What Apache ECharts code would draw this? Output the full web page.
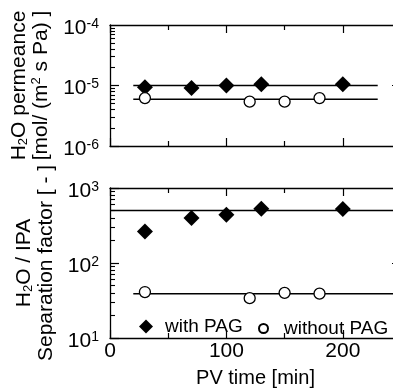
<!DOCTYPE html>
<html><head><meta charset="utf-8">
<script src="https://cdn.jsdelivr.net/npm/echarts@6/dist/echarts.min.js"></script>
<style>html,body{margin:0;padding:0;background:#fff}#c{width:393px;height:389px}</style>
</head><body><div id="c"></div><script>
// ---- data ----
const timeWith = [30, 70, 100, 130, 200];
const permWith = [9.4e-6, 9.1e-6, 1.0e-5, 1.05e-5, 1.05e-5];
const sepWith = [264, 398, 441, 530, 525];
const timeWithout = [30, 120, 150, 180];
const permWithout = [6.2e-6, 5.4e-6, 5.4e-6, 6.2e-6];
const sepWithout = [41, 34, 40, 39];
const permFitX = [20, 230];
const permFitWith = [1.0e-5, 1.0e-5];
const permFitWithout = [5.9e-6, 5.9e-6];
const sepFitWithX = [0, 250];
const sepFitWith = [500, 500];
const sepFitWithoutX = [20, 250];
const sepFitWithout = [39, 39];
const xTickLabels = [0, 100, 200];
const permDecades = [1e-6, 1e-5, 1e-4];
const sepDecades = [10, 100, 1000];

const FONT = 'Liberation Sans, Arial, sans-serif';
const TICK = '#000';
const zip = (a, b) => a.map((v, i) => [v, b[i]]);
const minorVals = d => { const r = []; for (let i = 0; i < d.length - 1; i++) for (let k = 2; k <= 9; k++) r.push(d[i] * k); return r; };

const grids = [
  {left: 110, top: 25, width: 291, height: 121, outerBoundsMode: 'none', containLabel: false},
  {left: 110, top: 188, width: 291, height: 150, outerBoundsMode: 'none', containLabel: false}
];
const axLine = () => ({show: true, onZero: false, lineStyle: {color: '#000', width: 1.3}});

function xAx(grid, pos, labels) {
  return {
    type: 'value', gridIndex: grid, position: pos, min: 0, max: 250, interval: 100,
    axisLine: axLine(), splitLine: {show: false},
    axisTick: {show: true, inside: true, length: 8, lineStyle: {color: TICK, width: 1.2}},
    minorTick: {show: true, splitNumber: 2, length: 5, lineStyle: {color: TICK, width: 1.2}},
    axisLabel: {show: labels, showMaxLabel: false, margin: 3, fontSize: 21, color: '#000', fontFamily: FONT},
    name: labels ? 'PV time [min]' : '', nameLocation: 'middle', nameGap: 30,
    nameTextStyle: {fontSize: 20, color: '#000', fontFamily: FONT}
  };
}
function yAx(grid, pos, dec, labels, name) {
  return {
    type: 'log', logBase: 10, gridIndex: grid, position: pos, min: dec[0], max: dec[dec.length - 1],
    axisLine: axLine(), splitLine: {show: false},
    axisTick: {show: true, inside: true, length: 9, customValues: dec, lineStyle: {color: TICK, width: 1.2}},
    axisLabel: {show: labels, margin: 11, color: '#000', fontFamily: FONT, padding: [6, 0, 0, 0],
      formatter: v => '{b|10}{s|' + Math.round(Math.log10(v)) + '}',
      rich: {b: {fontSize: 21, lineHeight: 22, fontFamily: FONT, color: '#000'},
             s: {fontSize: 14, lineHeight: 14, verticalAlign: 'top', fontFamily: FONT, color: '#000'}}},
    name: name || '', nameLocation: 'middle', nameRotate: 90, nameGap: 52,
    nameTextStyle: {color: '#000', fontFamily: FONT, lineHeight: 22,
      rich: {t: {fontSize: 21, lineHeight: 22, fontFamily: FONT, color: '#000'},
             sub: {fontSize: 13, lineHeight: 13, verticalAlign: 'bottom', fontFamily: FONT, color: '#000'},
             sup: {fontSize: 13, lineHeight: 13, verticalAlign: 'top', fontFamily: FONT, color: '#000'}}}
  };
}
function yMinor(grid, pos, dec) {
  return {
    type: 'log', logBase: 10, gridIndex: grid, position: pos, min: dec[0], max: dec[dec.length - 1],
    axisLine: {show: false, onZero: false}, splitLine: {show: false}, axisLabel: {show: false},
    axisTick: {show: true, inside: true, length: 5, customValues: minorVals(dec), lineStyle: {color: TICK, width: 1.1}}
  };
}
const hiddenX = g => ({type: 'value', gridIndex: g, min: 0, max: 250, show: false, axisLine: {onZero: false}});

const diamond = {symbol: 'diamond', symbolSize: 16, itemStyle: {color: '#000', opacity: 1}};
const circle = {symbol: 'circle', symbolSize: 11, itemStyle: {color: '#fff', borderColor: '#000', borderWidth: 1.3, opacity: 1}};
const fit = (xi, yi, data) => ({type: 'line', xAxisIndex: xi, yAxisIndex: yi, data, showSymbol: false, symbol: 'none',
  silent: true, lineStyle: {color: '#000', width: 1.5}, z: 1});

const option = {
  animation: false,
  backgroundColor: '#fff',
  grid: [grids[0], grids[1], Object.assign({}, grids[0]), Object.assign({}, grids[1])],
  xAxis: [xAx(0, 'bottom', false), xAx(0, 'top', false), xAx(1, 'bottom', true), xAx(1, 'top', false), hiddenX(2), hiddenX(3)],
  yAxis: [
    yAx(0, 'left', permDecades, true, '{t|H}{sub|2}{t|O permeance}\n{t|[mol/ (m}{sup|2}{t| s Pa) ]}'),
    yAx(0, 'right', permDecades, false),
    yAx(1, 'left', sepDecades, true, '{t|H}{sub|2}{t|O / IPA}\n{t|Separation factor [ - ]}'),
    yAx(1, 'right', sepDecades, false),
    yMinor(2, 'left', permDecades), yMinor(2, 'right', permDecades),
    yMinor(3, 'left', sepDecades), yMinor(3, 'right', sepDecades)
  ],
  legend: [
    {data: [{name: 'with PAG', icon: 'diamond'}], left: 139, top: 317, padding: 0, itemWidth: 14, itemHeight: 14, selectedMode: false,
     textStyle: {fontSize: 19, color: '#000', fontFamily: FONT, padding: [0, 0, 0, 7]}},
    {data: [{name: 'without PAG', icon: 'circle'}], left: 258, top: 319, padding: 0, itemWidth: 9, itemHeight: 9, selectedMode: false,
     textStyle: {fontSize: 19, color: '#000', fontFamily: FONT, padding: [0, 0, 0, 11]}}
  ],
  series: [
    fit(0, 0, zip(permFitX, permFitWith)),
    fit(0, 0, zip(permFitX, permFitWithout)),
    fit(2, 2, zip(sepFitWithX, sepFitWith)),
    fit(2, 2, zip(sepFitWithoutX, sepFitWithout)),
    Object.assign({type: 'scatter', name: 'with PAG', xAxisIndex: 0, yAxisIndex: 0, data: zip(timeWith, permWith), z: 3}, diamond),
    Object.assign({type: 'scatter', name: 'without PAG', xAxisIndex: 0, yAxisIndex: 0, data: zip(timeWithout, permWithout), z: 3}, circle),
    Object.assign({type: 'scatter', name: 'with PAG', xAxisIndex: 2, yAxisIndex: 2, data: zip(timeWith, sepWith), z: 3}, diamond),
    Object.assign({type: 'scatter', name: 'without PAG', xAxisIndex: 2, yAxisIndex: 2, data: zip(timeWithout, sepWithout), z: 3}, circle)
  ]
};
const chart = echarts.init(document.getElementById('c'), null, {renderer: 'canvas'});
chart.setOption(option);
</script></body></html>
